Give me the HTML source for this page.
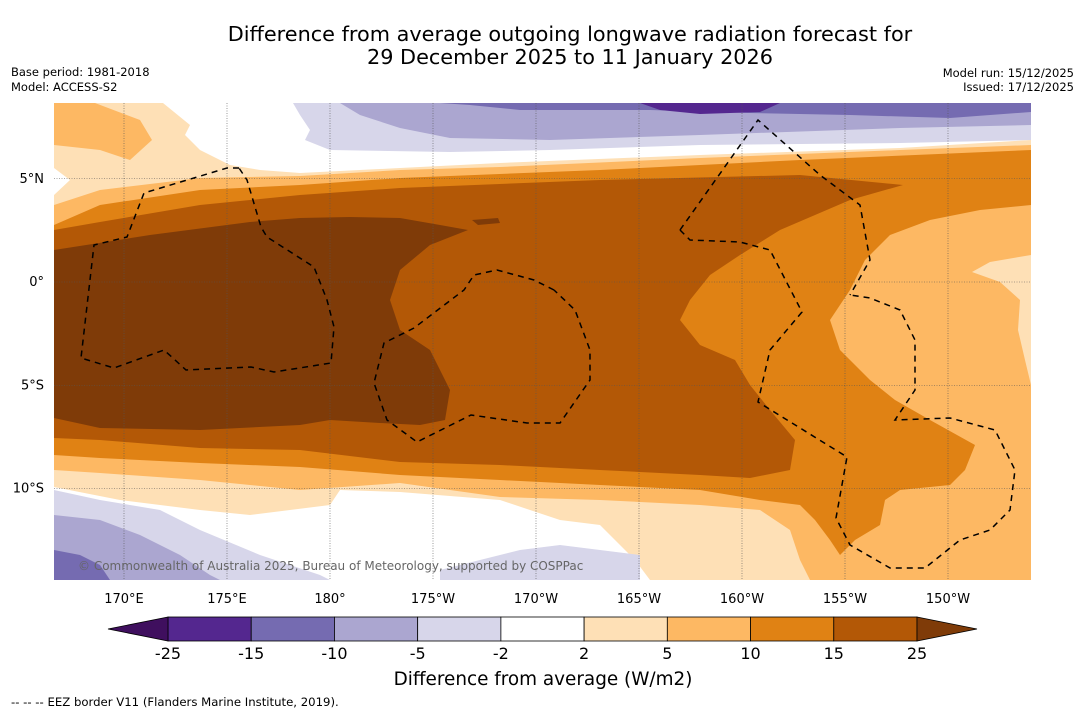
<!DOCTYPE html>
<html><head><meta charset="utf-8"><style>
body{margin:0;background:#fff;font-family:"Liberation Sans",sans-serif;}
svg{display:block}
text{font-family:"DejaVu Sans","Liberation Sans",sans-serif}
</style></head><body>
<svg id="chart" width="1085" height="713" viewBox="0 0 1085 713">
<rect width="1085" height="713" fill="#fff"/>
<text x="570" y="41" font-size="20.8" text-anchor="middle">Difference from average outgoing longwave radiation forecast for</text>
<text x="570" y="64" font-size="20.8" text-anchor="middle">29 December 2025 to 11 January 2026</text>
<text x="11" y="76" font-size="11.5">Base period: 1981-2018</text>
<text x="11" y="91" font-size="11.5">Model: ACCESS-S2</text>
<text x="1074" y="77" font-size="11.5" text-anchor="end">Model run: 15/12/2025</text>
<text x="1074" y="91" font-size="11.5" text-anchor="end">Issued: 17/12/2025</text>

<g id="map">
<clipPath id="pc"><rect x="54" y="103" width="977" height="477"/></clipPath>
<g clip-path="url(#pc)" id="bands">
<rect x="54" y="103" width="977" height="477" fill="#fff"/>
<polygon fill="#fee0b6" points="54,103 163,103 190,125 185,135 200,150 230,165 260,170 300,173 400,168 500,163 700,155 900,148 1031,140 1031,580 650,580 635,560 600,525 560,520 500,500 400,492 340,490 330,505 250,515 200,510 120,500 54,487 54,195 70,180 54,168"/>
<polygon fill="#fdb863" points="54,103 95,103 140,120 152,140 130,160 100,150 54,145"/>
<polygon fill="#fdb863" points="54,205 100,190 200,178 300,176 400,170 500,167 700,158 900,150 1031,145 1031,580 810,580 800,560 790,530 760,510 700,505 600,500 500,497 400,483 300,490 200,480 100,473 54,470"/>
<polygon fill="#fee0b6" points="1031,255 990,262 972,272 1000,282 1020,300 1018,330 1025,360 1031,385"/>
<polygon fill="#e08214" points="54,225 100,205 200,190 300,185 400,178 600,170 800,160 1031,150 1031,205 980,210 930,220 890,235 865,260 850,290 830,320 840,350 870,380 895,400 930,420 975,445 965,470 950,485 900,490 885,500 880,525 855,540 840,555 830,540 815,520 800,505 760,500 700,490 600,485 500,480 400,475 300,467 200,463 100,458 54,455"/>
<polygon fill="#b35806" points="54,230 100,222 200,205 300,195 400,188 600,180 800,175 903,185 850,200 780,230 740,255 710,275 690,300 680,320 700,345 735,360 750,385 770,410 795,440 790,470 750,478 700,475 600,470 500,465 400,462 300,450 200,448 100,440 54,438"/>
<polygon fill="#7f3b08" points="54,250 150,235 250,222 300,218 350,217 400,218 440,225 468,230 430,245 400,270 390,300 400,330 430,350 440,370 450,390 445,420 420,425 380,423 330,420 300,425 200,430 100,428 54,418"/>
<polygon fill="#7f3b08" points="472,220 498,218 500,223 478,225"/>
<polygon fill="#d7d6ea" points="293,103 1031,103 1031,140 900,143 700,145 550,150 450,152 330,150 305,140 310,130 300,115"/>
<polygon fill="#aba6d0" points="340,103 1031,103 1031,125 900,128 700,135 550,140 450,138 400,128 360,115"/>
<polygon fill="#756bb1" points="440,103 1031,103 1031,112 950,118 850,115 750,113 650,110 520,110 470,105"/>
<polygon fill="#54278f" points="640,103 780,103 760,112 700,114 660,110"/>
<polygon fill="#d7d6ea" points="54,490 100,500 160,510 200,530 260,555 320,575 330,580 54,580"/>
<polygon fill="#d7d6ea" points="440,570 480,560 520,550 560,545 600,550 640,555 640,580 440,580"/>
<polygon fill="#aba6d0" points="54,515 100,520 140,535 180,555 210,575 220,580 54,580"/>
<polygon fill="#756bb1" points="54,550 80,555 100,565 110,580 54,580"/>
</g>
<g id="grid" stroke="#555" stroke-width="0.6" stroke-dasharray="1,1.5"></g>
<g fill="none" stroke="#000" stroke-width="1.5" stroke-dasharray="6,5" clip-path="url(#pc)">
<polyline points="239,168 227,168 144,193 127,237 94,245 81,358 114,368 164,350 186,370 251,367 274,372 331,363 334,327 327,300 314,267 267,237 261,227 247,180 239,168"/>
<polyline points="554,290 534,280 497,270 474,275 464,290 414,328 384,343 374,383 387,420 417,442 471,415 527,423 560,423 590,380 590,350 575,310 554,290"/>
<polyline points="680,230 758,120 820,175 860,205 870,260 850,295"/>
<polyline points="680,230 690,240 740,242 770,250 802,312 770,350 758,402 847,457 836,518 850,545 890,568 925,568 960,540 990,530 1010,510 1015,470 995,430 950,418 895,420 915,390 915,340 900,310 870,298 850,295"/>
</g>
<text x="78" y="570" font-size="12" fill="#666">© Commonwealth of Australia 2025, Bureau of Meteorology, supported by COSPPac</text>
<g id="xticks" font-size="13" text-anchor="middle"></g>
<g id="yticks" font-size="13" text-anchor="end"></g>
</g>

<g id="colorbar"></g>
<text x="543" y="685" font-size="18.4" text-anchor="middle">Difference from average (W/m2)</text>
<text x="11" y="706" font-size="11.7">-- -- -- EEZ border V11 (Flanders Marine Institute, 2019).</text>
</svg>
<script>
const lonTicks=["170°E","175°E","180°","175°W","170°W","165°W","160°W","155°W","150°W"];
const lonValues=[170,175,180,185,190,195,200,205,210];
const latTicks=["5°N","0°","5°S","10°S"];
const latValues=[5,0,-5,-10];
const levels=[-25,-15,-10,-5,-2,2,5,10,15,25];
const bandColors=["#54278f","#756bb1","#aba6d0","#d7d6ea","#ffffff","#fee0b6","#fdb863","#e08214","#b35806"];
const extendColors=["#3f0f5e","#7f3b08"];
const NS="http://www.w3.org/2000/svg";
const xOf=lon=>124+(lon-170)*20.6;
const yOf=lat=>282-lat*20.65;
const grid=document.getElementById('grid'),xt=document.getElementById('xticks'),yt=document.getElementById('yticks');
lonValues.forEach((v,i)=>{
 const l=document.createElementNS(NS,'line');
 l.setAttribute('x1',xOf(v));l.setAttribute('x2',xOf(v));l.setAttribute('y1',103);l.setAttribute('y2',580);
 
 
 grid.appendChild(l);
 const t=document.createElementNS(NS,'text');
 t.setAttribute('x',xOf(v));t.setAttribute('y',603);t.textContent=lonTicks[i];
 
 
 xt.appendChild(t);
});
latValues.forEach((v,i)=>{
 const l=document.createElementNS(NS,'line');
 l.setAttribute('x1',54);l.setAttribute('x2',1031);l.setAttribute('y1',yOf(v));l.setAttribute('y2',yOf(v));
 
 
 grid.appendChild(l);
 const t=document.createElementNS(NS,'text');
 t.setAttribute('x',44);t.setAttribute('y',yOf(v)+4);t.textContent=latTicks[i];
 
 
 yt.appendChild(t);
});
const cb=document.getElementById('colorbar');
const x0=168,bw=(917-168)/bandColors.length,cy=617,ch=24;
bandColors.forEach((c,i)=>{
 const r=document.createElementNS(NS,'rect');
 r.setAttribute('x',x0+i*bw);r.setAttribute('y',cy);r.setAttribute('width',bw);r.setAttribute('height',ch);
 r.setAttribute('fill',c);r.setAttribute('stroke','#000');r.setAttribute('stroke-width','0.8');
 
 
 cb.appendChild(r);
});
const tl=document.createElementNS(NS,'polygon');
tl.setAttribute('points',`${x0},${cy} 108,${cy+ch/2} ${x0},${cy+ch}`);tl.setAttribute('fill',extendColors[0]);tl.setAttribute('stroke','#000');tl.setAttribute('stroke-width','0.8');


cb.appendChild(tl);
const tr=document.createElementNS(NS,'polygon');
const xe=x0+bandColors.length*bw;
tr.setAttribute('points',`${xe},${cy} 977,${cy+ch/2} ${xe},${cy+ch}`);tr.setAttribute('fill',extendColors[1]);tr.setAttribute('stroke','#000');tr.setAttribute('stroke-width','0.8');


cb.appendChild(tr);
levels.forEach((v,i)=>{
 const t=document.createElementNS(NS,'text');
 t.setAttribute('x',x0+i*bw);t.setAttribute('y',659);t.setAttribute('font-size','16');t.setAttribute('text-anchor','middle');
 t.textContent=v;
 
 
 cb.appendChild(t);
});
</script>
</body></html>
